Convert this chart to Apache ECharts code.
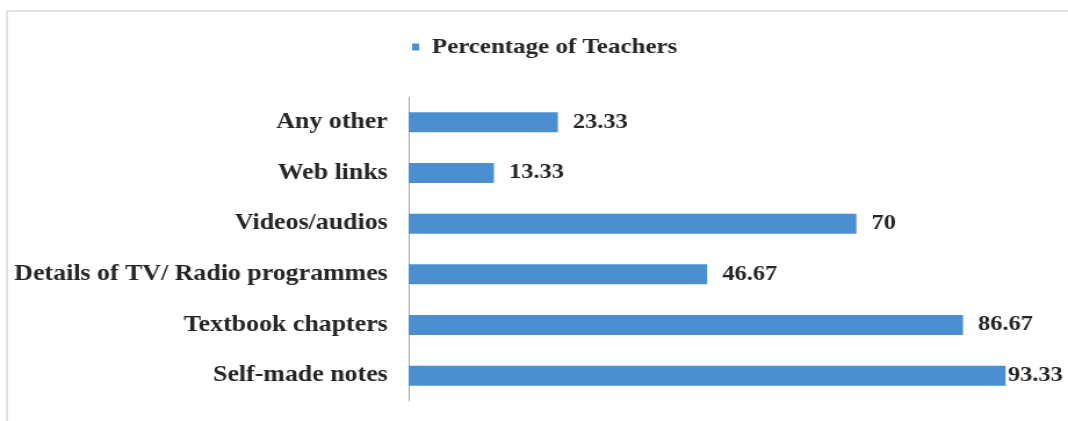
<!DOCTYPE html>
<html>
<head>
<meta charset="utf-8">
<script src="https://cdn.jsdelivr.net/npm/echarts@6/dist/echarts.min.js"></script>
<style>
  html, body { margin: 0; padding: 0; background: #fff; overflow: hidden; }
  /* the source figure is stretched sideways, so the chart is drawn narrower and widened */
  #main { width: 920px; height: 421px; transform: scaleX(1.16087); transform-origin: 0 0; }
</style>
</head>
<body>
<div id="main"></div>
<script>
// categories, bottom to top
const categories = ['Self-made notes', 'Textbook chapters', 'Details of TV/ Radio programmes', 'Videos/audios', 'Web links', 'Any other'];
const teachers = [93.33, 86.67, 46.67, 70, 13.33, 23.33];

const font = 'Liberation Serif';
const chart = echarts.init(document.getElementById('main'));

// the longest bar nearly touches the edge, so its label sits closer
const barData = teachers.map(v => (
    v === Math.max(...teachers) ? { value: v, label: { distance: 2 } } : v
));

const option = {
    animation: false,
    backgroundColor: '#fff',
    textStyle: { fontFamily: font },
    // light frame round the figure
    graphic: [{
        type: 'rect',
        shape: { x: 6, y: 11, width: 1000, height: 500 },
        style: { fill: 'none', stroke: '#c4c4c4', lineWidth: 1 }
    }],
    legend: {
        data: ['Percentage of Teachers'],
        left: 355,
        top: 36,
        padding: 0,
        icon: 'rect',
        itemWidth: 6,
        itemHeight: 7,
        textStyle: {
            fontFamily: font,
            fontWeight: 'bold',
            fontSize: 21.5,
            color: '#262626',
            padding: [0, 0, 0, 6]
        }
    },
    grid: {
        left: 352,
        top: 97,
        width: 551,
        height: 304,
        containLabel: false
    },
    xAxis: {
        type: 'value',
        min: 0,
        max: 100,
        show: false
    },
    yAxis: {
        type: 'category',
        data: categories,
        axisLine: { show: true, lineStyle: { color: '#a8a8a8', width: 1 } },
        axisTick: { show: false },
        splitLine: { show: false },
        axisLabel: {
            margin: 18,
            fontFamily: font,
            fontWeight: 'bold',
            fontSize: 22.3,
            color: '#262626'
        }
    },
    series: [{
        name: 'Percentage of Teachers',
        type: 'bar',
        data: barData,
        barWidth: 20,
        itemStyle: { color: '#4b8fd1' },
        label: {
            show: true,
            position: 'right',
            distance: 13,
            fontFamily: font,
            fontWeight: 'bold',
            fontSize: 21,
            color: '#262626'
        }
    }]
};

chart.setOption(option);
</script>
</body>
</html>
